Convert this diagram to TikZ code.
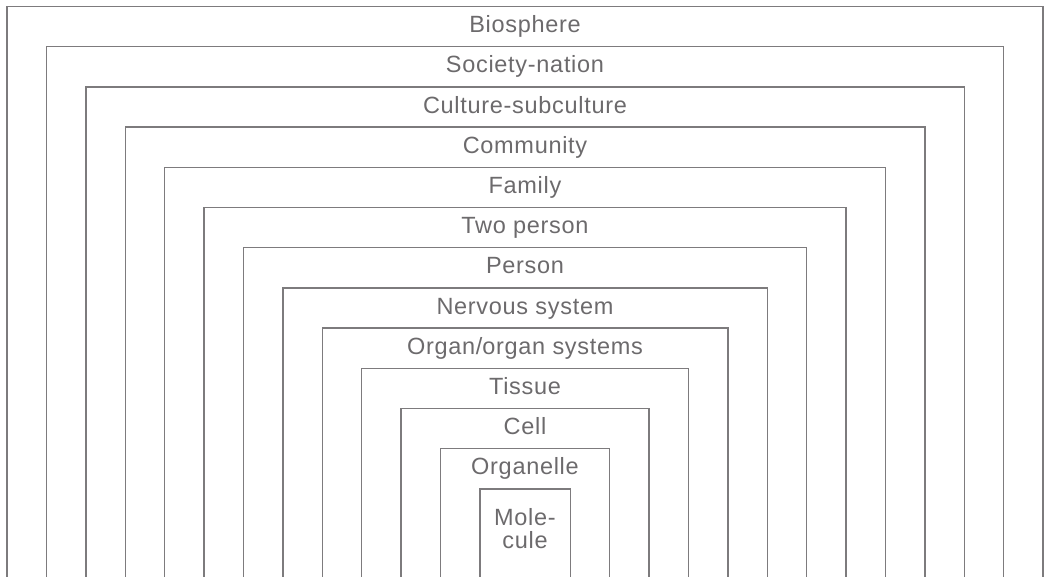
\documentclass[tikz,border=0pt]{standalone}
\usepackage{fontspec}
\setmainfont{Liberation Sans}[LetterSpace=3]
\definecolor{linegray}{RGB}{125,123,125}
\definecolor{txtgray}{RGB}{108,106,108}
\tikzset{
  boxline/.style={draw=linegray, line width=1.4pt},
  lbl/.style={anchor=base, text=txtgray, inner sep=0pt, font=\fontsize{23.5}{26}\selectfont}
}
\begin{document}
\begin{tikzpicture}[x=1pt,y=1pt]
\useasboundingbox (0,0) rectangle (1044,576);
\foreach \i/\t in {0/Biosphere,1/Society-nation,2/Culture-subculture,3/Community,4/Family,5/Two person,6/Person,7/Nervous system,8/Organ\slash organ systems,9/Tissue,10/Cell,11/Organelle,12/{}} {
  \pgfmathsetmacro\l{7+39.4*\i}
  \pgfmathsetmacro\r{1043-39.4*\i}
  \pgfmathsetmacro\tp{576-6.5-40.2*\i}
  \pgfmathsetmacro\bl{\tp-26.2}
  \draw[boxline] (\l,-2) -- (\l,\tp) -- (\r,\tp) -- (\r,-2);
  \node[lbl] (n\i) at (525,\bl) {\t};
}
\node[lbl] (mol1) at (525,51) {Mole-};
\node[lbl] (mol2) at (525,27.5) {cule};
\end{tikzpicture}
\end{document}
